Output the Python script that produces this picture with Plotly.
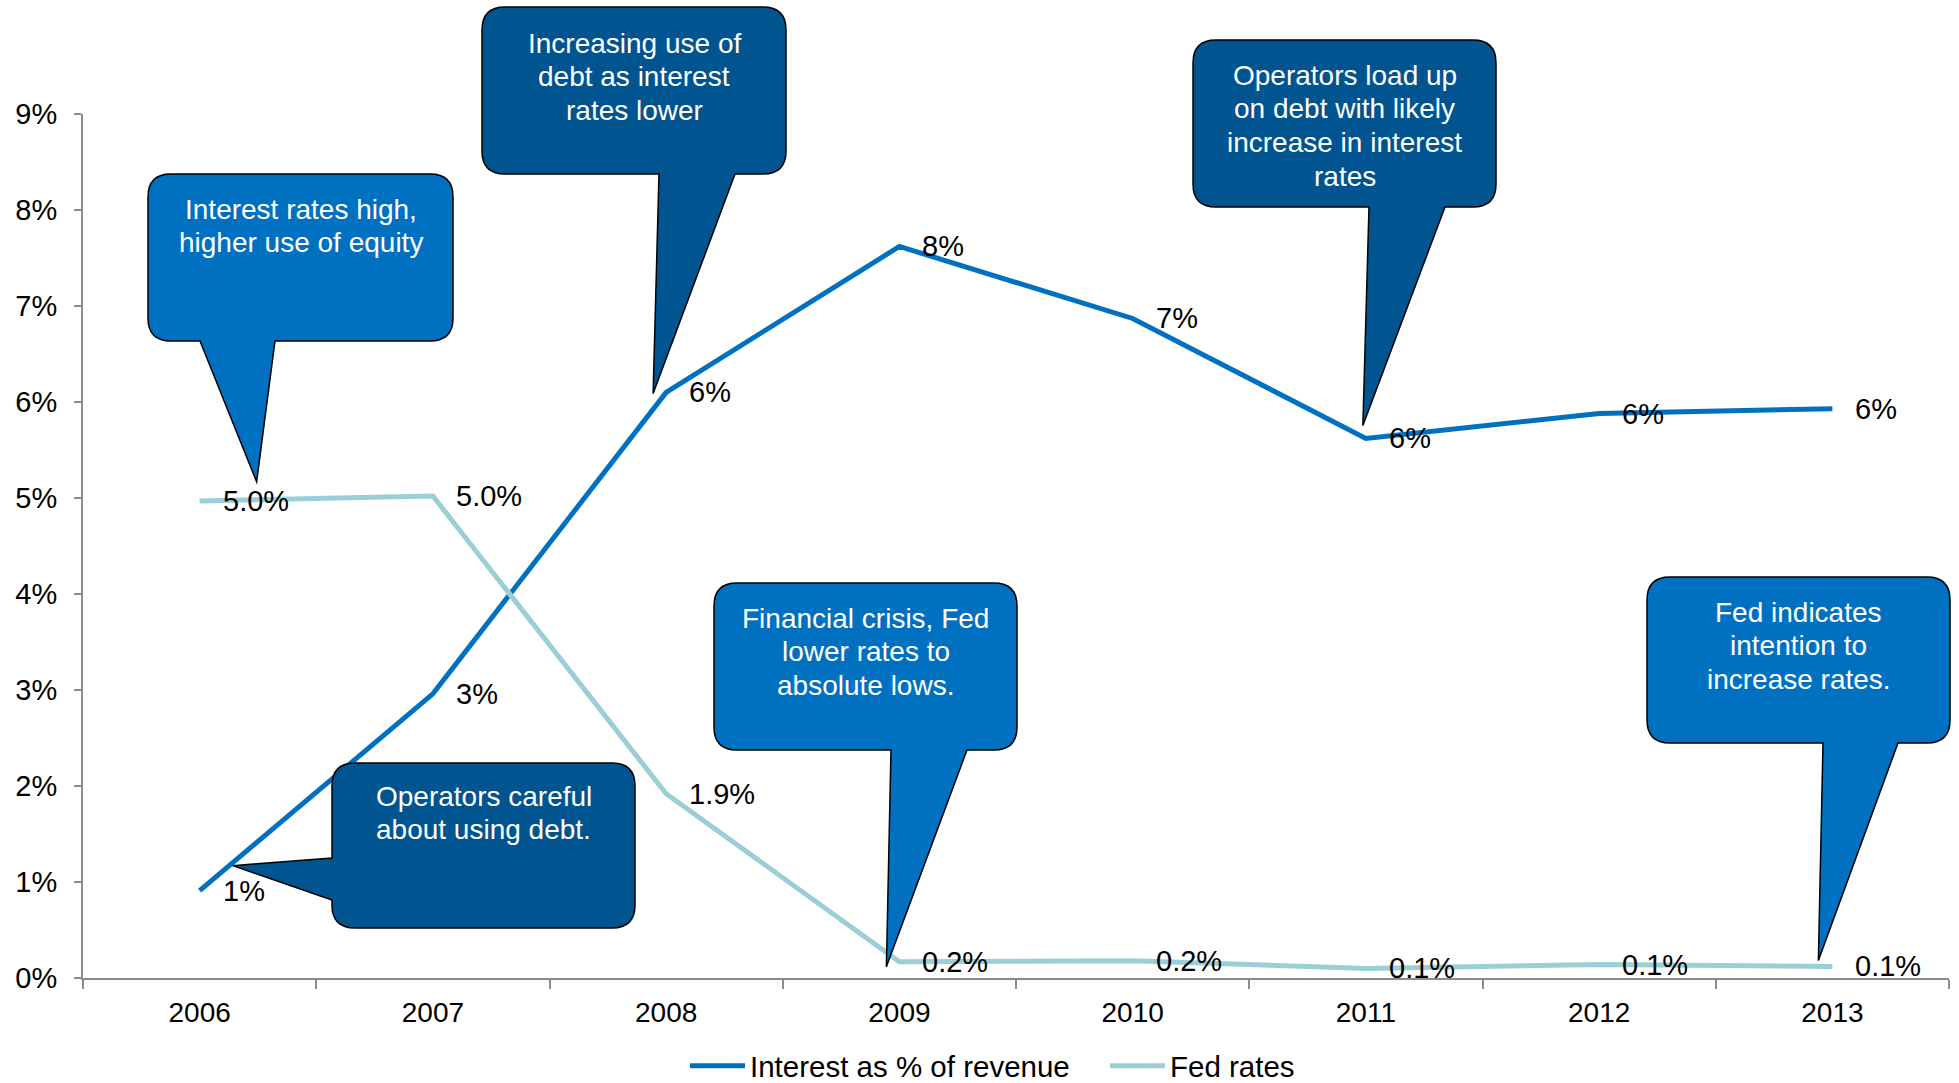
import plotly.graph_objects as go

# ---- data -------------------------------------------------------------
years = ["2006", "2007", "2008", "2009", "2010", "2011", "2012", "2013"]
interest_pct = [0.91, 2.96, 6.10, 7.62, 6.87, 5.62, 5.88, 5.93]   # interest as % of revenue
fed_rate_pct = [4.97, 5.02, 1.92, 0.17, 0.18, 0.10, 0.14, 0.12]   # Fed rates, %
y_ticks = [0, 1, 2, 3, 4, 5, 6, 7, 8, 9]
y_tick_labels = [f"{t}%" for t in y_ticks]

# ---- page / plot geometry ----------------------------------------------
W, H = 1959, 1083
M_L, M_R, M_T, M_B = 83, 10, 114, 105
PLOT_W = W - M_L - M_R
PLOT_H = H - M_T - M_B
X_RANGE = (-0.5, len(years) - 0.5)
Y_RANGE = (0, 9)

FONT = "Arial, Liberation Sans, sans-serif"
BLUE = "#0070C0"
TEAL = "#9BCFD5"
DARK_BOX = "#00548F"
LIGHT_BOX = "#0070C0"
AXIS_GREY = "#8C8C8C"


def data_px(i, v):
    """Pixel position (page coords, y down) of category index i and value v."""
    px = M_L + (i - X_RANGE[0]) / (X_RANGE[1] - X_RANGE[0]) * PLOT_W
    py = M_T + (Y_RANGE[1] - v) / (Y_RANGE[1] - Y_RANGE[0]) * PLOT_H
    return px, py


def to_paper(px, py):
    return (px - M_L) / PLOT_W, (H - M_B - py) / PLOT_H


def fmt(px, py):
    x, y = to_paper(px, py)
    return f"{x:.5f},{y:.5f}"


def callout_path(box, side, base, tip, r=23):
    """Rounded rectangle with a triangular pointer on its bottom or left edge."""
    x0, y0, x1, y1 = box
    p = [f"M{fmt(x0 + r, y0)}", f"L{fmt(x1 - r, y0)}",
         f"Q{fmt(x1, y0)} {fmt(x1, y0 + r)}", f"L{fmt(x1, y1 - r)}",
         f"Q{fmt(x1, y1)} {fmt(x1 - r, y1)}"]
    if side == "bottom":
        p += [f"L{fmt(base[1], y1)}", f"L{fmt(*tip)}", f"L{fmt(base[0], y1)}"]
    p += [f"L{fmt(x0 + r, y1)}", f"Q{fmt(x0, y1)} {fmt(x0, y1 - r)}"]
    if side == "left":
        p += [f"L{fmt(x0, base[1])}", f"L{fmt(*tip)}", f"L{fmt(x0, base[0])}"]
    p += [f"L{fmt(x0, y0 + r)}", f"Q{fmt(x0, y0)} {fmt(x0 + r, y0)}", "Z"]
    return " ".join(p)


fig = go.Figure()

fig.add_trace(go.Scatter(
    x=years, y=interest_pct, mode="lines", name="Interest as % of revenue",
    line=dict(color=BLUE, width=5), hoverinfo="skip",
))
fig.add_trace(go.Scatter(
    x=years, y=fed_rate_pct, mode="lines", name="Fed rates",
    line=dict(color=TEAL, width=5), hoverinfo="skip",
))

annotations = []

# value labels to the right of each point
for series, decimals in ((interest_pct, 0), (fed_rate_pct, 1)):
    for i, v in enumerate(series):
        annotations.append(dict(
            x=i, y=v, xref="x", yref="y", text=f"{v:.{decimals}f}%",
            showarrow=False, xanchor="left", yanchor="middle", xshift=21,
            font=dict(family=FONT, size=29, color="black"),
        ))

# callouts: (lines, fill, box [x0, y0, x1, y1] in px, pointer side,
#            pointer base span, anchor series/index, tip offset in px,
#            first text line offset from box top)
callouts = [
    (["Interest rates high,", "higher use of equity"], LIGHT_BOX,
     (148, 174, 453, 341), "bottom", (200, 275), (fed_rate_pct, 0), (57, -19), 35),
    (["Increasing use of", "debt as interest", "rates lower"], DARK_BOX,
     (482, 7, 786, 174), "bottom", (659, 735), (interest_pct, 2), (-13, 1), 36),
    (["Operators load up", "on debt with likely", "increase in interest", "rates"], DARK_BOX,
     (1193, 40, 1496, 207), "bottom", (1369, 1445), (interest_pct, 5), (-3, -13), 35),
    (["Operators careful", "about using debt."], DARK_BOX,
     (332, 763, 635, 928), "left", (858, 900), (interest_pct, 0), (33, -25), 33),
    (["Financial crisis, Fed", "lower rates to", "absolute lows."], LIGHT_BOX,
     (714, 583, 1017, 750), "bottom", (891, 967), (fed_rate_pct, 3), (-13, 5), 35),
    (["Fed indicates", "intention to", "increase rates."], LIGHT_BOX,
     (1647, 577, 1950, 743), "bottom", (1823, 1898), (fed_rate_pct, 7), (-14, -6), 35),
]

shapes = []
for lines, fill, box, side, base, (series, idx), (dx, dy), text_top in callouts:
    px, py = data_px(idx, series[idx])
    tip = (px + dx, py + dy)
    shapes.append(dict(
        type="path", xref="paper", yref="paper", layer="above",
        path=callout_path(box, side, base, tip),
        fillcolor=fill, line=dict(color="black", width=1.5),
    ))
    cx = (box[0] + box[2]) / 2
    for k, line in enumerate(lines):
        tx, ty = to_paper(cx, box[1] + text_top + k * 33.7)
        annotations.append(dict(
            x=tx, y=ty, xref="paper", yref="paper", text=line, showarrow=False,
            xanchor="center", yanchor="middle",
            font=dict(family=FONT, size=28, color="white"),
        ))

fig.update_layout(
    width=W, height=H, autosize=False,
    margin=dict(l=M_L, r=M_R, t=M_T, b=M_B, pad=0, autoexpand=False),
    paper_bgcolor="white", plot_bgcolor="white",
    font=dict(family=FONT, size=28, color="black"),
    showlegend=True,
    legend=dict(
        orientation="h", x=(685 - M_L) / PLOT_W, xanchor="left",
        y=-(1066 - (H - M_B)) / PLOT_H, yanchor="middle",
        font=dict(family=FONT, size=29.5, color="black"),
        itemwidth=55, entrywidth=350, entrywidthmode="pixels",
        bgcolor="rgba(0,0,0,0)",
    ),
    xaxis=dict(
        type="category", range=list(X_RANGE), showgrid=False, zeroline=False,
        showline=True, linecolor=AXIS_GREY, linewidth=2,
        ticks="outside", tickson="boundaries", ticklen=9, tickwidth=2,
        tickcolor=AXIS_GREY, tickfont=dict(family=FONT, size=28, color="black"),
        ticklabelstandoff=8, fixedrange=True,
    ),
    yaxis=dict(
        range=list(Y_RANGE), tickmode="array", tickvals=y_ticks, ticktext=y_tick_labels,
        showgrid=False, zeroline=False, showline=True, linecolor=AXIS_GREY, linewidth=2,
        ticks="outside", ticklen=7, tickwidth=2, tickcolor=AXIS_GREY,
        tickfont=dict(family=FONT, size=29, color="black"),
        ticklabelstandoff=11, fixedrange=True,
    ),
    shapes=shapes,
    annotations=annotations,
)

fig.write_html("out.html", config={"displayModeBar": False})
